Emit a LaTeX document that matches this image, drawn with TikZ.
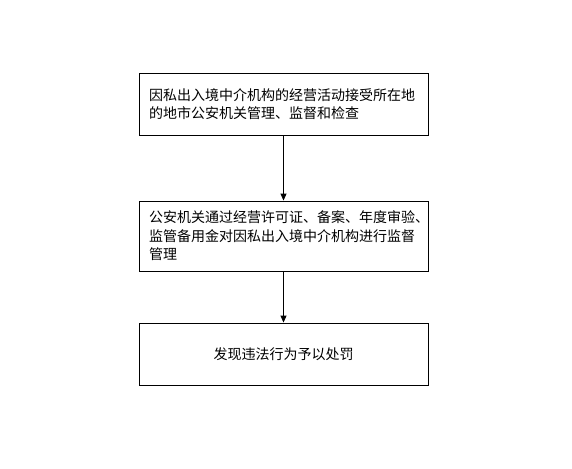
\documentclass[tikz,border=0pt]{standalone}
\usepackage{fontspec}
\setmainfont{Noto Sans CJK SC}
\usetikzlibrary{arrows.meta}
\begin{document}
\begin{tikzpicture}[x=1pt,y=-1pt,
  box/.style={draw=black,line width=0.9pt,minimum width=289pt,text width=269pt,align=left,inner xsep=10pt,font=\fontsize{14}{18.5}\selectfont},
  arr/.style={-{Triangle[length=7pt,width=6pt]},line width=0.9pt}]
\useasboundingbox (0,0) rectangle (572,468);
\node[box,minimum height=62pt] (b1) at (283.5,104) {因私出入境中介机构的经营活动接受所在地\\的地市公安机关管理、监督和检查};
\node[box,minimum height=70pt] (b2) at (283.5,236) {公安机关通过经营许可证、备案、年度审验、\\监管备用金对因私出入境中介机构进行监督\\管理};
\node[box,minimum height=62pt,align=center] (b3) at (283.5,354) {发现违法行为予以处罚};
\draw[arr] (b1) -- (b2);
\draw[arr] (b2) -- (b3);
\end{tikzpicture}
\end{document}
